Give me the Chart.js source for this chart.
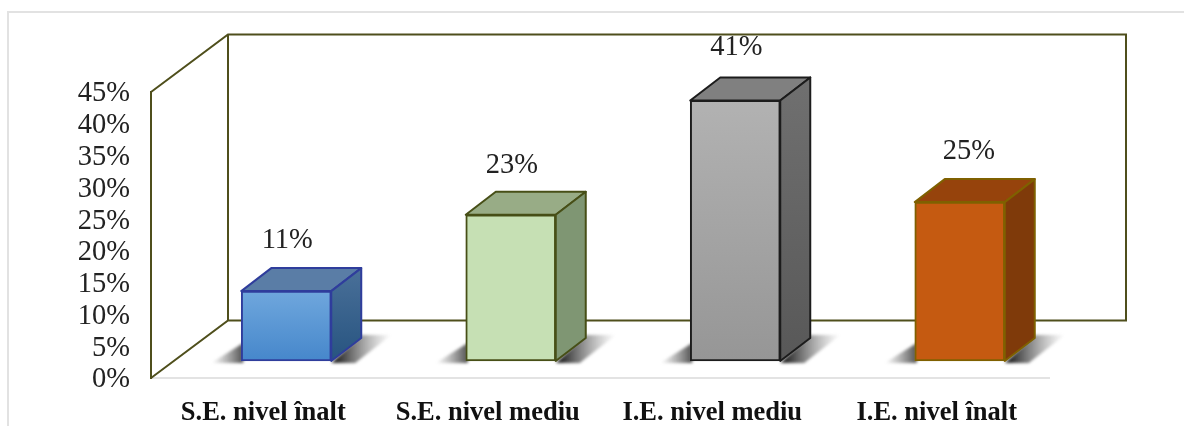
<!DOCTYPE html>
<html>
<head>
<meta charset="utf-8">
<title>Nivel</title>
<script src="https://cdn.jsdelivr.net/npm/chart.js@4"></script>
<style>
  html, body { margin: 0; padding: 0; background: #fff; overflow: hidden; }
  canvas { display: block; filter: blur(0.4px); }
</style>
</head>
<body>
<canvas id="grafic" width="1184" height="426"></canvas>
<script>
const categorii = ['S.E. nivel înalt', 'S.E. nivel mediu', 'I.E. nivel mediu', 'I.E. nivel înalt'];
const procente = [11, 23, 41, 25];

const yMax = 45;
const yPas = 5;

// culori pe fiecare bara
const fataSus = ['#6fa7dd', '#c6e0b4', '#b2b2b2', '#c55a11'];
const fataJos = ['#4687cb', '#c6e0b4', '#969696', '#c55a11'];
const capac = ['#5a7da6', '#98ac86', '#808080', '#96430c'];
const lateralSus = ['#4a7099', '#7f9673', '#707070', '#7f3a0a'];
const lateralJos = ['#275480', '#7f9673', '#585858', '#7f3a0a'];
const contur = ['#2f3d9c', '#474f17', '#1c1c1c', '#7f6000'];

const culoareCadru = '#4f4f1c';
const font = 'Liberation Serif';

// bara e desenata mutata in "adancime" fata de axa
const dxBara = 23;
const dyBara = -17;
const dxBloc = 30;
const dyBloc = -23;
const dxPerete = 77;
const dyPerete = -57.5;
const dxEticheta = [0, 0, 0, 8];
const dyEticheta = [2, 4, 0, 2];

function linie(ctx, puncte, culoare, grosime) {
  ctx.beginPath();
  puncte.forEach((p, i) => i ? ctx.lineTo(p[0], p[1]) : ctx.moveTo(p[0], p[1]));
  ctx.lineWidth = grosime;
  ctx.strokeStyle = culoare;
  ctx.lineJoin = 'miter';
  ctx.stroke();
}

function poligon(ctx, puncte, umplere, culoare) {
  ctx.beginPath();
  puncte.forEach((p, i) => i ? ctx.lineTo(p[0], p[1]) : ctx.moveTo(p[0], p[1]));
  ctx.closePath();
  ctx.fillStyle = umplere;
  ctx.fill();
  if (culoare) {
    ctx.lineWidth = 2;
    ctx.strokeStyle = culoare;
    ctx.lineJoin = 'round';
    ctx.stroke();
  }
}

const pluginFundal = {
  id: 'fundal',
  beforeDraw(chart) {
    const ctx = chart.ctx;
    ctx.save();
    linie(ctx, [[8, 426], [8, 12], [1184, 12]], '#e2e2e2', 2);
    ctx.restore();
  },
  beforeDatasetsDraw(chart) {
    const ctx = chart.ctx;
    const a = chart.chartArea;
    const spate = a.right + dxPerete;
    const sus = a.top + dyPerete;
    const jos = a.bottom + dyPerete;
    ctx.save();
    linie(ctx, [[a.left, a.top], [a.left + dxPerete, sus], [spate, sus], [spate, jos], [a.left + dxPerete, jos], [a.left, a.bottom]], culoareCadru, 2);
    linie(ctx, [[a.left + dxPerete, sus], [a.left + dxPerete, jos]], culoareCadru, 2);

    // umbre pe podea
    ctx.filter = 'blur(1.5px)';
    chart.getDatasetMeta(0).data.forEach(bar => {
      const st = bar.x - bar.width / 2 + dxBara;
      const dr = bar.x + bar.width / 2 + dxBara;
      const baza = bar.base + dyBara;
      let g = ctx.createLinearGradient(st - 30, 0, st + 2, 0);
      g.addColorStop(0, 'rgba(90,90,90,0)');
      g.addColorStop(1, 'rgba(50,50,50,0.85)');
      poligon(ctx, [[st - 30, baza + 2], [st + 2, baza - 18], [st + 2, baza + 2]], g);
      g = ctx.createLinearGradient(dr + 6, 0, dr + 60, 0);
      g.addColorStop(0, 'rgba(30,30,30,0.95)');
      g.addColorStop(1, 'rgba(110,110,110,0)');
      poligon(ctx, [[dr, baza + 2], [dr + 30, baza - 26], [dr + 60, baza - 26], [dr + 24, baza + 2]], g);
    });
    ctx.filter = 'none';

    ctx.restore();
    ctx.save();
    ctx.translate(dxBara, dyBara);
  },
  afterDatasetsDraw(chart) {
    const ctx = chart.ctx;
    ctx.restore();
    ctx.save();
    chart.getDatasetMeta(0).data.forEach((bar, i) => {
      const st = bar.x - bar.width / 2 + dxBara;
      const dr = bar.x + bar.width / 2 + dxBara;
      const sus = bar.y + dyBara;
      const baza = bar.base + dyBara;

      poligon(ctx, [[st, sus], [st + dxBloc, sus + dyBloc], [dr + dxBloc, sus + dyBloc], [dr, sus]], capac[i], contur[i]);

      const g = ctx.createLinearGradient(0, sus + dyBloc, 0, baza);
      g.addColorStop(0, lateralSus[i]);
      g.addColorStop(1, lateralJos[i]);
      poligon(ctx, [[dr, sus], [dr + dxBloc, sus + dyBloc], [dr + dxBloc, baza + dyBloc], [dr, baza]], g, contur[i]);

      ctx.font = '28.5px "' + font + '"';
      ctx.fillStyle = '#222';
      ctx.textAlign = 'center';
      ctx.textBaseline = 'middle';
      ctx.fillText(procente[i] + '%', bar.x + dxBara + dxEticheta[i] + 1, sus - 53 + dyEticheta[i]);
    });
    ctx.restore();
  }
};

const graficNivel = new Chart(document.getElementById('grafic'), {
  type: 'bar',
  data: {
    labels: categorii,
    datasets: [{
      data: procente,
      barThickness: 90,
      borderWidth: 2,
      borderSkipped: false,
      borderColor: c => contur[c.dataIndex],
      clip: false,
      backgroundColor: c => {
        const y = c.chart.scales.y;
        const susY = y ? y.getPixelForValue(c.raw) : NaN;
        const josY = y ? y.getPixelForValue(0) : NaN;
        if (!Number.isFinite(susY) || !Number.isFinite(josY)) return fataSus[c.dataIndex];
        const g = c.chart.ctx.createLinearGradient(0, susY, 0, josY);
        g.addColorStop(0, fataSus[c.dataIndex]);
        g.addColorStop(1, fataJos[c.dataIndex]);
        return g;
      }
    }]
  },
  options: {
    responsive: false,
    animation: false,
    devicePixelRatio: 1,
    layout: { padding: { left: 0, right: 135, top: 92, bottom: 0 } },
    plugins: { legend: { display: false }, tooltip: { enabled: false } },
    scales: {
      x: {
        grid: { display: false, drawTicks: false },
        border: { color: '#e3e3e3', width: 2 },
        afterFit: s => { s.height = 48; },
        ticks: {
          padding: 19,
          autoSkip: false,
          maxRotation: 0,
          color: '#111',
          font: { family: font, size: 26.5, weight: 'bold' }
        }
      },
      y: {
        min: 0,
        max: yMax,
        grid: { display: false, drawTicks: false },
        border: { color: culoareCadru, width: 2 },
        afterFit: s => { s.width = 151; },
        ticks: {
          stepSize: yPas,
          autoSkip: false,
          padding: 21,
          labelOffset: 2,
          color: '#222',
          font: { family: font, size: 28.5 },
          callback: v => v + '%'
        }
      }
    }
  },
  plugins: [pluginFundal]
});
</script>
</body>
</html>
